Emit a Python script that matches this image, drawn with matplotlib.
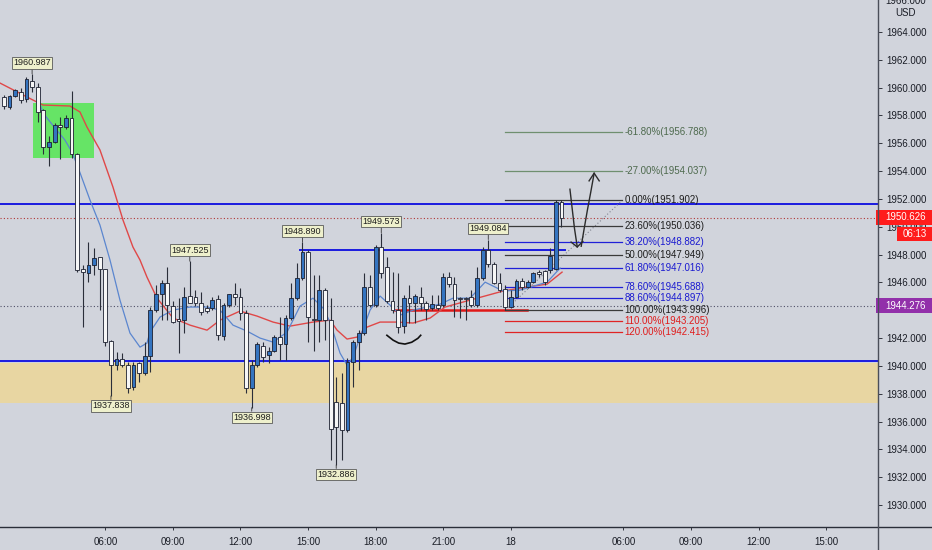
import matplotlib
matplotlib.use("Agg")
import matplotlib.pyplot as plt
import matplotlib.transforms as mtransforms
from matplotlib.lines import Line2D
from matplotlib.patches import Rectangle

plt.rcParams["font.family"] = ["Liberation Sans", "DejaVu Sans"]

# 15 minute candles
opens = [1959.3, 1958.6, 1959.4, 1959.7, 1959.2, 1960.5, 1960.05, 1958.4, 1955.7, 1956.1,
         1957.3, 1957.2, 1957.8, 1955.2, 1946.95, 1946.7, 1947.25, 1947.8, 1947.0, 1941.8,
         1940.1, 1940.5, 1940.05, 1938.5, 1940.2, 1939.5, 1940.7, 1944.0, 1945.2, 1945.95,
         1944.3, 1943.35, 1943.3, 1945.0, 1944.95, 1944.5, 1944.15, 1944.15, 1944.8, 1942.15,
         1944.35, 1945.15, 1944.95, 1943.8, 1938.4, 1940.05, 1941.4, 1940.75, 1941.1, 1942.05,
         1941.6, 1943.45, 1944.85, 1946.3, 1948.2, 1943.4, 1943.3, 1945.45, 1943.3, 1937.4,
         1937.3, 1935.4, 1940.3, 1941.7, 1942.35, 1945.65, 1944.35, 1948.55, 1947.1, 1944.7,
         1944.0, 1942.9, 1944.85, 1944.5, 1944.95, 1944.5, 1944.15, 1944.35, 1944.35, 1946.4,
         1945.9, 1944.9, 1944.9, 1944.95, 1944.35, 1946.3, 1948.35, 1947.3, 1945.95, 1945.5,
         1944.2, 1944.95, 1946.1, 1945.65, 1946.0, 1946.75, 1946.8, 1946.9, 1947.0, 1951.8]
highs = [1959.5, 1959.5, 1959.9, 1960.0, 1960.8, 1960.987, 1960.3, 1958.5, 1956.5, 1957.45,
         1957.9, 1958.0, 1959.75, 1955.3, 1947.25, 1948.9, 1948.5, 1947.85, 1947.0, 1941.85,
         1941.0, 1940.9, 1940.3, 1940.3, 1940.3, 1941.7, 1944.2, 1945.8, 1946.2, 1947.1,
         1944.7, 1944.9, 1945.7, 1947.525, 1945.45, 1945.3, 1944.4, 1944.95, 1945.1, 1944.5,
         1945.2, 1945.95, 1945.6, 1944.0, 1940.4, 1941.7, 1941.7, 1941.35, 1942.2, 1943.5,
         1943.65, 1945.95, 1947.4, 1948.89, 1948.3, 1946.5, 1946.5, 1945.6, 1944.9, 1939.2,
         1939.5, 1940.55, 1941.85, 1942.6, 1946.7, 1946.5, 1948.7, 1949.573, 1947.8, 1946.75,
         1946.7, 1945.1, 1945.8, 1945.2, 1945.65, 1944.7, 1945.1, 1945.1, 1946.7, 1946.75,
         1946.4, 1944.95, 1944.95, 1945.45, 1947.1, 1948.55, 1949.084, 1947.45, 1946.65, 1945.8,
         1945.45, 1946.25, 1946.3, 1946.15, 1946.75, 1946.9, 1946.9, 1948.5, 1951.902, 1951.9]
lows = [1958.5, 1958.5, 1959.3, 1958.9, 1959.0, 1959.7, 1957.5, 1955.2, 1954.4, 1956.0,
        1954.9, 1957.0, 1954.95, 1946.75, 1942.8, 1946.0, 1946.5, 1944.0, 1941.4, 1937.838,
        1939.7, 1939.9, 1938.05, 1938.25, 1938.85, 1939.35, 1939.55, 1943.9, 1943.3, 1943.3,
        1943.1, 1940.9, 1942.4, 1944.5, 1944.3, 1943.65, 1943.8, 1944.0, 1941.85, 1941.85,
        1944.2, 1944.35, 1943.3, 1938.05, 1936.998, 1939.9, 1940.3, 1940.2, 1941.0, 1940.4,
        1940.4, 1943.3, 1944.75, 1946.15, 1941.7, 1941.1, 1941.7, 1941.85, 1933.2, 1932.886,
        1933.2, 1935.25, 1938.5, 1939.7, 1942.2, 1944.2, 1944.2, 1946.3, 1944.5, 1943.8,
        1942.4, 1942.35, 1943.1, 1943.1, 1944.0, 1943.3, 1944.0, 1944.0, 1944.2, 1945.65,
        1943.5, 1943.45, 1943.3, 1944.2, 1944.2, 1946.15, 1947.1, 1945.9, 1945.3, 1943.996,
        1944.15, 1944.9, 1945.45, 1945.6, 1945.95, 1946.4, 1945.8, 1946.7, 1946.9, 1950.0]
closes = [1958.7, 1959.4, 1959.8, 1959.1, 1960.6, 1960.05, 1958.25, 1955.7, 1956.1, 1957.3,
          1957.2, 1957.8, 1955.2, 1946.9, 1946.75, 1947.25, 1947.75, 1946.95, 1941.7, 1940.1,
          1940.5, 1940.05, 1938.4, 1940.1, 1939.5, 1940.7, 1944.0, 1945.2, 1945.95, 1944.4,
          1943.15, 1943.2, 1944.95, 1944.55, 1944.5, 1943.9, 1943.95, 1944.75, 1942.2, 1944.35,
          1945.15, 1944.95, 1943.8, 1938.4, 1940.05, 1941.55, 1940.65, 1941.1, 1942.05, 1941.6,
          1943.45, 1944.85, 1946.3, 1948.2, 1943.5, 1943.3, 1945.45, 1943.3, 1935.5, 1935.6,
          1935.4, 1940.3, 1941.7, 1942.35, 1945.65, 1944.35, 1948.55, 1946.7, 1944.7, 1944.0,
          1942.8, 1944.85, 1944.5, 1945.0, 1944.5, 1944.1, 1944.45, 1944.15, 1946.4, 1945.9,
          1944.75, 1944.8, 1944.8, 1944.35, 1946.3, 1948.35, 1947.3, 1945.95, 1945.45, 1944.2,
          1944.95, 1946.1, 1945.65, 1946.0, 1946.65, 1946.6, 1946.0, 1947.9, 1951.8, 1950.626]

time_ticks = [18, 30, 42, 54, 66, 78, 90, 110, 122, 134, 146]
time_labels = ["06:00", "09:00", "12:00", "15:00", "18:00", "21:00", "18",
               "06:00", "09:00", "12:00", "15:00"]
price_ticks = [1930, 1932, 1934, 1936, 1938, 1940, 1942, 1944, 1946, 1948,
               1950, 1952, 1954, 1956, 1958, 1960, 1962, 1964]
hidden_ticks = [1944]   # covered by the purple price tag
top_tick = 1966

# moving averages (bar position, price)
red_ma_x = [-0.7, 5.15, 6.93, 11.72, 13.5, 14.74, 17.05, 19.36, 21.14, 22.91, 24.16, 25.4,
            27.18, 30.02, 33.04, 36.06, 38.37, 41.92, 44.94, 47.78, 50.8, 54.88, 57.9,
            59.15, 60.92, 62.7, 64.48, 66.79, 69.8, 72.65, 75.67, 78.33, 82.77, 88.63,
            91.65, 96.45, 99.1]
red_ma_y = [1960.33, 1959.11, 1958.75, 1958.68, 1958.25, 1957.17, 1955.52, 1952.85, 1950.48,
            1948.54, 1947.61, 1946.38, 1944.87, 1943.44, 1942.93, 1942.57, 1943.29, 1943.94,
            1943.58, 1943.15, 1942.86, 1943.15, 1943.29, 1942.57, 1941.93, 1942.07, 1942.79,
            1943.15, 1943.15, 1943.08, 1943.44, 1944.23, 1944.73, 1945.38, 1945.59, 1945.88,
            1946.74]
blue_ma_x = [6.04, 6.93, 9.06, 10.83, 12.08, 13.14, 15.28, 17.05, 18.83, 20.6, 22.38, 24.16,
             25.4, 25.93, 27.71, 30.02, 33.04, 36.06, 38.37, 40.67, 43.16, 45.47, 47.78,
             50.27, 52.58, 54.88, 56.66, 57.9, 59.68, 60.92, 61.99, 63.23, 65.01, 66.79,
             68.56, 70.34, 72.65, 75.13, 77.44, 79.75, 82.77, 85.44, 88.63, 91.65, 96.45, 98.76]
blue_ma_y = [1959.25, 1958.18, 1957.10, 1956.23, 1955.37, 1954.29, 1951.92, 1950.12, 1947.61,
             1944.73, 1942.36, 1941.35, 1941.64, 1942.43, 1943.51, 1944.01, 1944.23, 1944.23,
             1944.01, 1942.93, 1942.50, 1942.00, 1941.71, 1942.43, 1944.30, 1944.87, 1944.16,
             1943.15, 1940.92, 1940.06, 1940.63, 1942.07, 1944.01, 1945.02, 1944.37, 1943.65,
             1944.01, 1944.23, 1944.44, 1944.87, 1944.87, 1946.02, 1945.38, 1945.45, 1946.02,
             1947.03]

fib_ratios = [-0.618, -0.27, 0.0, 0.236, 0.382, 0.5, 0.618, 0.786, 0.886, 1.0, 1.1, 1.2]
fib_prices = [1956.788, 1954.037, 1951.902, 1950.036, 1948.882, 1947.949, 1947.016,
              1945.688, 1944.897, 1943.996, 1943.205, 1942.415]

high_pivot_bars = [5, 33, 53, 67, 86]
high_pivot_vals = [1960.987, 1947.525, 1948.890, 1949.573, 1949.084]
low_pivot_bars = [19, 44, 59]
low_pivot_vals = [1937.838, 1936.998, 1932.886]

last_price = 1950.626
marked_price = 1944.276
countdown = "06:13"

bg = "#d1d4dc"
up_col = "#3474c0"
edge = "#1c2030"

fig = plt.figure(figsize=(9.32, 5.5), dpi=100)
fig.patch.set_facecolor(bg)
ax = fig.add_axes([0, 23 / 550, 878 / 932, 527 / 550])
ax.set_facecolor(bg)
ax.set_xlim(-0.7, 155.2)
ax.set_ylim(1928.42, 1966.30)
for s in ax.spines.values():
    s.set_visible(False)

# zones and levels
ax.axhspan(1937.3, 1940.2, color="#e8d6a2", zorder=0.5, lw=0)
ax.add_patch(Rectangle((5.15, 1954.94), 10.85, 3.96, facecolor="#66e466", edgecolor="none", zorder=1))
ax.axhline(1951.63, color="#1a1ae0", lw=1.4, zorder=2)
ax.axhline(1940.35, color="#1a1ae0", lw=1.4, zorder=2)
ax.plot([52.6, 99.6], [1948.33, 1948.33], color="#1a1ae0", lw=1.4, zorder=2)
ax.plot([69.4, 92.9], [1944.0, 1944.0], color="#e01818", lw=1.8, zorder=2)
ax.axhline(last_price, color="#b03838", lw=0.8, ls=(0, (1, 2)), zorder=1.5)
ax.axhline(marked_price, color="#505068", lw=0.8, ls=(0, (1, 2)), zorder=1.5)

# fib retracement
fib_x0, fib_x1 = 89, 109.8
ax.plot([fib_x0, fib_x1], [fib_prices[-3], fib_prices[2]], color="#808390", lw=0.8, ls=(0, (1, 2)), zorder=2)
for r, p in zip(fib_ratios, fib_prices):
    if r < 0:
        lc, tc = "#6f8f6f", "#4e6a4e"
    elif r in (0.382, 0.618, 0.786, 0.886):
        lc, tc = "#2020d8", "#1a1ad0"
    elif r > 1:
        lc, tc = "#e02424", "#e01c1c"
    else:
        lc, tc = "#3a3a3a", "#1e1e1e"
    ax.plot([fib_x0, fib_x1], [p, p], color=lc, lw=0.9, zorder=2)
    ax.text(fib_x1 + 0.4, p, f"{r * 100:.2f}%({p:.3f})", color=tc, fontsize=7,
            ha="left", va="center", zorder=6)

# moving averages
ax.plot(red_ma_x, red_ma_y, color="#e04848", lw=1.0, zorder=3)
ax.plot(blue_ma_x, blue_ma_y, color="#5b86cf", lw=0.9, zorder=3)

# candles
xs = list(range(len(opens)))
ax.vlines(xs, lows, highs, color="#2a2e39", lw=0.8, zorder=3.5)
for i in xs:
    o, c = opens[i], closes[i]
    h = max(abs(c - o), 0.06)
    ax.bar(i, h, bottom=min(o, c), width=0.68, color=up_col if c > o else "#f6f6f6",
           edgecolor=edge, linewidth=0.6, zorder=4)

# pivot labels
box = dict(boxstyle="square,pad=0.15", fc="#eef0cc", ec="#5a5a5a", lw=0.6)
for b, v in zip(high_pivot_bars, high_pivot_vals):
    ax.annotate(f"{v:.3f}", xy=(b, v), xytext=(0, 8), textcoords="offset points",
                ha="center", va="center", fontsize=6.5, color="#1e1e1e", bbox=box, zorder=7,
                arrowprops=dict(arrowstyle="-", color="#333333", lw=0.6, shrinkA=0, shrinkB=0))
for b, v in zip(low_pivot_bars, low_pivot_vals):
    ax.annotate(f"{v:.3f}", xy=(b, v), xytext=(0, -7), textcoords="offset points",
                ha="center", va="center", fontsize=6.5, color="#1e1e1e", bbox=box, zorder=7,
                arrowprops=dict(arrowstyle="-", color="#333333", lw=0.6, shrinkA=0, shrinkB=0))

# hand drawn marks
ink = "#2b2b2b"
ax.plot([100.5, 100.9, 101.3, 101.8], [1952.7, 1951.3, 1949.9, 1948.55], color=ink, lw=1.0, zorder=6)
ax.plot([100.7, 101.8, 102.8], [1948.9, 1948.55, 1948.95], color=ink, lw=1.0, zorder=6)
ax.plot([102.5, 103.0, 103.6, 104.2, 104.8], [1948.6, 1949.8, 1951.2, 1952.5, 1953.85], color=ink, lw=1.0, zorder=6)
ax.plot([103.9, 104.8, 105.7], [1953.3, 1953.85, 1953.3], color=ink, lw=1.0, zorder=6)
ax.plot([68.0, 69.1, 70.1, 71.2, 72.4, 73.5, 74.0],
        [1942.2, 1941.85, 1941.64, 1941.57, 1941.7, 1941.98, 1942.2], color="#111111", lw=1.2, zorder=6)

# axes ticks
ax.yaxis.tick_right()
ax.set_yticks(price_ticks, ["" if v in hidden_ticks else f"{v:.3f}" for v in price_ticks])
ax.tick_params(axis="y", length=3, pad=3, labelsize=7, colors="#1a1d26", width=0.6)
ax.set_xticks(time_ticks, time_labels)
ax.tick_params(axis="x", length=2, pad=5, labelsize=7, colors="#1a1d26", width=0.6)

# price tags on the scale
tr = mtransforms.blended_transform_factory(ax.transAxes, ax.transData)
ax.add_patch(Rectangle((0.998, 1950.16), 0.064, 1.07, transform=tr, facecolor="#ff1c1c",
                       edgecolor="none", clip_on=False, zorder=10))
ax.text(1.031, 1950.7, f"{last_price:.3f}", transform=tr, color="white", fontsize=7,
        ha="center", va="center", clip_on=False, zorder=11)
ax.add_patch(Rectangle((1.0216, 1948.98), 0.042, 1.0, transform=tr, facecolor="#ff1c1c",
                       edgecolor="none", clip_on=False, zorder=10))
ax.text(1.042, 1949.48, countdown, transform=tr, color="white", fontsize=7,
        ha="center", va="center", clip_on=False, zorder=11)
ax.add_patch(Rectangle((0.998, 1943.78), 0.064, 1.07, transform=tr, facecolor="#9230aa",
                       edgecolor="none", clip_on=False, zorder=10))
ax.text(1.031, 1944.32, f"{marked_price:.3f}", transform=tr, color="white", fontsize=7,
        ha="center", va="center", clip_on=False, zorder=11)

# top of the scale: cut-off 1966 label and the currency
fig.text(906 / 932, 1 - 1 / 550, f"{top_tick:.3f}", fontsize=7, color="#1a1d26", ha="center", va="center")
fig.text(906 / 932, 1 - 13 / 550, "USD", fontsize=7, color="#1a1d26", ha="center", va="center")
fig.add_artist(Line2D([0, 1], [23 / 550, 23 / 550], color="#2a2e39", lw=1.0))
fig.add_artist(Line2D([878 / 932, 878 / 932], [0, 1], color="#4a4e59", lw=1.0))

fig.savefig("out.png", dpi=100, facecolor=bg)
